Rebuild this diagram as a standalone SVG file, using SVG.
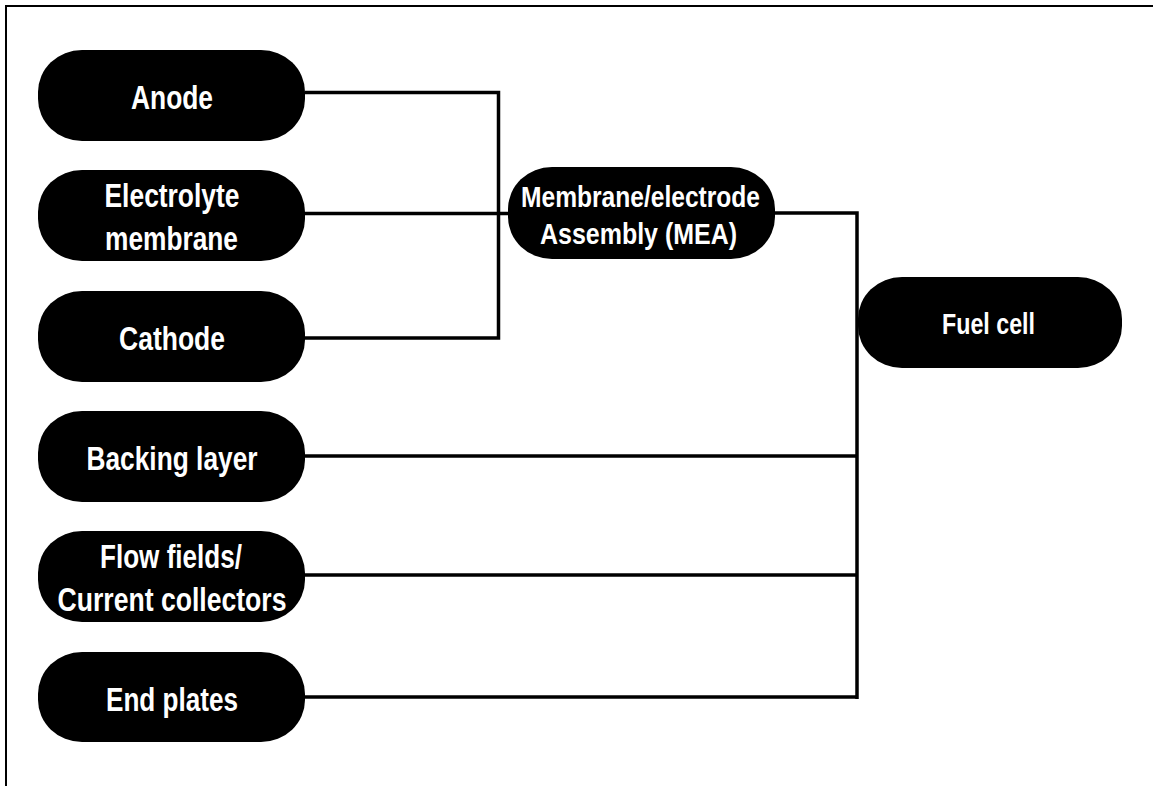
<svg xmlns="http://www.w3.org/2000/svg" width="1153" height="786" viewBox="0 0 1153 786">
  <style>
    .node { fill: #000; }
    .lbl { fill: #fff; font-family: "Liberation Sans Narrow", "Liberation Sans", Arial, sans-serif; font-weight: bold; text-anchor: middle; }
    .big { font-size: 33px; }
    .mid { font-size: 29px; }
    .wire { fill: none; stroke: #000; stroke-width: 3.5; stroke-linejoin: miter; stroke-linecap: butt; }
    .frame { fill: none; stroke: #000; stroke-width: 2; }
  </style>
  <rect width="1153" height="786" fill="#fff"/>

  <!-- outer frame, open on the right and bottom -->
  <path class="frame" d="M6,790 V6 H1160"/>

  <!-- connectors -->
  <g id="connectors">
    <path class="wire" d="M305,92.5 H498.5 V338 H305"/>
    <path class="wire" d="M305,213.5 H509"/>
    <path class="wire" d="M775,213 H857 V699"/>
    <path class="wire" d="M305,456 H857"/>
    <path class="wire" d="M305,575 H857"/>
    <path class="wire" d="M305,697 H857"/>
  </g>

  <g id="anode">
    <rect class="node" x="38" y="50" width="267" height="91" rx="44" ry="42"/>
    <text class="lbl big" x="172" y="109" textLength="82" lengthAdjust="spacingAndGlyphs">Anode</text>
  </g>

  <g id="electrolyte">
    <rect class="node" x="38" y="170" width="267" height="91" rx="44" ry="42"/>
    <text class="lbl big" x="172" y="207" textLength="135" lengthAdjust="spacingAndGlyphs">Electrolyte</text>
    <text class="lbl big" x="171.5" y="250" textLength="133" lengthAdjust="spacingAndGlyphs">membrane</text>
  </g>

  <g id="cathode">
    <rect class="node" x="38" y="291" width="267" height="91" rx="44" ry="42"/>
    <text class="lbl big" x="172" y="350" textLength="106" lengthAdjust="spacingAndGlyphs">Cathode</text>
  </g>

  <g id="backing-layer">
    <rect class="node" x="38" y="411" width="267" height="91" rx="44" ry="42"/>
    <text class="lbl big" x="172" y="469.5" textLength="171" lengthAdjust="spacingAndGlyphs">Backing layer</text>
  </g>

  <g id="flow-fields">
    <rect class="node" x="38" y="531" width="267" height="91" rx="44" ry="42"/>
    <text class="lbl big" x="171" y="568" textLength="142" lengthAdjust="spacingAndGlyphs">Flow fields/</text>
    <text class="lbl big" x="172" y="611" textLength="229" lengthAdjust="spacingAndGlyphs">Current collectors</text>
  </g>

  <g id="end-plates">
    <rect class="node" x="38" y="652" width="267" height="90" rx="44" ry="42"/>
    <text class="lbl big" x="172" y="710.5" textLength="132" lengthAdjust="spacingAndGlyphs">End plates</text>
  </g>

  <g id="mea">
    <rect class="node" x="508" y="167" width="267" height="92" rx="44" ry="42"/>
    <text class="lbl mid" x="640.5" y="206.5" textLength="239" lengthAdjust="spacingAndGlyphs">Membrane/electrode</text>
    <text class="lbl mid" x="638.5" y="244" textLength="197" lengthAdjust="spacingAndGlyphs">Assembly (MEA)</text>
  </g>

  <g id="fuel-cell">
    <rect class="node" x="858" y="277" width="264" height="91" rx="44" ry="42"/>
    <text class="lbl mid" x="988.5" y="334" textLength="93" lengthAdjust="spacingAndGlyphs">Fuel cell</text>
  </g>
</svg>
